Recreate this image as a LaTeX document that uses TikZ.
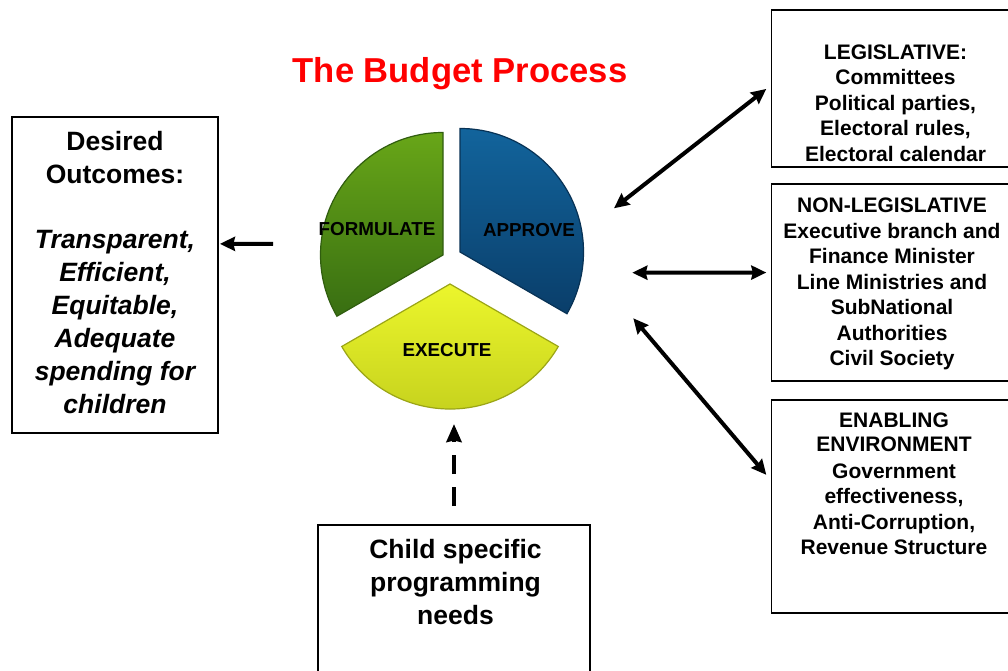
\documentclass[tikz,border=0pt]{standalone}
\usepackage{fontspec}
\setmainfont{Liberation Sans}
\usetikzlibrary{arrows.meta,calc}
\definecolor{grnTop}{RGB}{104,166,24}
\definecolor{grnBot}{RGB}{56,110,18}
\definecolor{bluTop}{RGB}{18,100,156}
\definecolor{bluBot}{RGB}{10,62,106}
\definecolor{yelTop}{RGB}{236,246,44}
\definecolor{yelBot}{RGB}{194,206,28}
\definecolor{ttlRed}{RGB}{255,0,0}
\begin{document}
\begin{tikzpicture}[x=1pt,y=1pt,
  box/.style={draw=black, line width=1.8pt, inner sep=0pt},
  boxtxt/.style={align=center, inner sep=0pt, font=\fontsize{21}{25.5}\selectfont\bfseries},
  bigtxt/.style={align=center, inner sep=0pt, font=\fontsize{26.5}{32.9}\selectfont\bfseries},
  lbl/.style={inner sep=0pt, font=\fontsize{18.8}{22}\selectfont\bfseries},
  tip/.style={Stealth[length=15pt,width=14pt,inset=1.5pt]},
  dbl/.style={{Stealth[length=15pt,width=14pt,inset=1.5pt]}-{Stealth[length=15pt,width=14pt,inset=1.5pt]}, line width=4pt},
  sarr/.style={-{Stealth[length=15pt,width=14pt,inset=1.5pt]}, line width=4pt},
  dasharr/.style={-{Stealth[length=18pt,width=15pt,inset=1.5pt]}, line width=4.8pt, dash pattern=on 19pt off 13pt},
  sector/.style={line width=1.2pt}
]
\useasboundingbox (0,0) rectangle (1008,671);
\fill[white] (0,0) rectangle (1008,671);

% title
\node[anchor=base, inner sep=0pt, font=\fontsize{34.6}{40}\selectfont\bfseries, text=ttlRed] (title) at (460,588.5) {The Budget Process};

% pie sectors
\shade[sector, top color=grnTop, bottom color=grnBot, draw=grnBot!85!black]
  (443,416) -- ++(90:122.5) arc[start angle=90, end angle=210, radius=122.5] -- cycle;
\shade[sector, top color=bluTop, bottom color=bluBot, draw=bluBot!80!black]
  (460,419) -- ++(90:123.5) arc[start angle=90, end angle=-30, radius=123.5] -- cycle;
\shade[sector, top color=yelTop, bottom color=yelBot, draw=yelBot!80!black]
  (450,387) -- ++(210:125) arc[start angle=210, end angle=330, radius=125] -- cycle;

\node[lbl] (formulate) at (377,441.5) {FORMULATE};
\node[lbl] (approve) at (529,441) {APPROVE};
\node[lbl] (execute) at (447,321) {EXECUTE};
\coordinate (execbot) at (454,261);

% left box
\node[box, minimum width=206pt, minimum height=316pt] (outcome) at (115,396) {};
\node[bigtxt] (outtxt) at (115,398.6) {Desired\\Outcomes:\\[32.9pt]\itshape Transparent,\\\itshape Efficient,\\\itshape Equitable,\\\itshape Adequate\\\itshape spending for\\\itshape children};

% bottom box
\node[box, minimum width=272pt, minimum height=151pt] (child) at (454,70.5) {};
\node[bigtxt] (childtxt) at (455.5,89.1) {Child specific\\programming\\needs};

% right boxes
\node[box, minimum width=240.5pt, minimum height=157pt] (leg) at (891.75,582.5) {};
\node[boxtxt] (legtxt) at (895.5,568) {LEGISLATIVE:\\Committees\\Political parties,\\Electoral rules,\\Electoral calendar};

\node[box, minimum width=240.5pt, minimum height=197pt] (nonleg) at (891.75,388.5) {};
\node[boxtxt] (nonlegtxt) at (892,386.7) {NON-LEGISLATIVE\\Executive branch and\\Finance Minister\\Line Ministries and\\SubNational\\Authorities\\Civil Society};

\node[box, minimum width=240.5pt, minimum height=213pt] (enab) at (891.75,164.5) {};
\node[boxtxt] (enabtxt) at (894,187) {ENABLING\\[-1.5pt]ENVIRONMENT\\[1.5pt]Government\\effectiveness,\\Anti-Corruption,\\Revenue Structure};

% connectors
\coordinate (a1s) at (614,462.7);
\coordinate (a2s) at (632.3,398.3);
\coordinate (a3s) at (633.3,352.7);
\coordinate (las) at (273,427);

\draw[dbl, shorten >=5.5pt] (a1s) -- ($(leg.north west)!0.4815!(leg.south west)$);
\draw[dbl, shorten >=4.3pt] (a2s) -- ($(nonleg.north west)!0.45!(nonleg.south west)$);
\draw[dbl, shorten >=6.6pt] (a3s) -- ($(enab.north west)!0.376!(enab.south west)$);
\draw[sarr, shorten >=1pt] (las) -- ($(outcome.north east)!0.402!(outcome.south east)$);
\draw[dasharr, shorten <=18pt, shorten >=14pt] (child.north) -- (execbot);
\end{tikzpicture}
\end{document}
